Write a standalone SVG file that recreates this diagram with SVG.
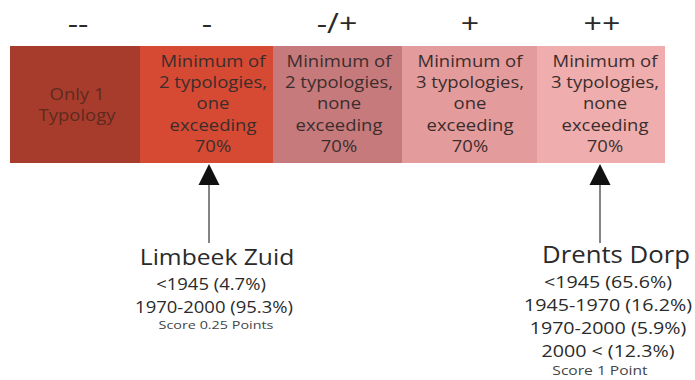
<svg xmlns="http://www.w3.org/2000/svg" width="695" height="380" viewBox="0 0 695 380">
  <style>
    text { font-family: "Open Sans", "Noto Sans", "DejaVu Sans", sans-serif; text-anchor: middle; fill: #2a2a2a; }
    .sym { font-size: 28px; font-weight: 500; }
    .cell { font-size: 16.5px; fill: #3b2d2d; font-weight: 500; }
    .cell-dark { font-size: 16.5px; fill: #5e2a1e; font-weight: 500; }
    .name { font-size: 22px; font-weight: 500; }
    .name-lg { font-size: 23px; font-weight: 500; }
    .val { font-size: 16.5px; font-weight: 500; }
    .val-lg { font-size: 16.8px; font-weight: 500; }
    .score { font-size: 11.5px; fill: #444; font-weight: 500; }
    .score-lg { font-size: 12px; fill: #444; font-weight: 500; }
    .lead { stroke: #333; stroke-width: 1.2; fill: none; }
    .tip { fill: #111; }
  </style>
  <rect width="695" height="380" fill="#ffffff"/>

  <!-- rating scale labels -->
  <g id="scale-labels">
    <g transform="translate(78 0) scale(1.15 1)"><text class="sym" x="0" y="33">--</text></g>
    <g transform="translate(207 0) scale(1.15 1)"><text class="sym" x="0" y="33">-</text></g>
    <g transform="translate(337 0) scale(1.15 1)"><text class="sym" x="0" y="33">-/+</text></g>
    <g transform="translate(470 0) scale(1.15 1)"><text class="sym" x="0" y="33">+</text></g>
    <g transform="translate(602 0) scale(1.15 1)"><text class="sym" x="0" y="33">++</text></g>
  </g>

  <!-- rating bar cells; labels are set in a slightly widened face -->
  <g id="cell-1">
    <rect x="10" y="46" width="131" height="117" fill="#a73c2c"/>
    <g transform="translate(77 0) scale(1.12 1)">
      <text class="cell-dark" x="0" y="100">Only 1</text>
      <text class="cell-dark" x="0" y="121">Typology</text>
    </g>
  </g>
  <g id="cell-2">
    <rect x="140" y="46" width="133" height="117" fill="#d64a33"/>
    <g transform="translate(213 0) scale(1.12 1)">
      <text class="cell" x="0" y="67">Minimum of</text>
      <text class="cell" x="0" y="88">2 typologies,</text>
      <text class="cell" x="0" y="109">one</text>
      <text class="cell" x="0" y="131">exceeding</text>
      <text class="cell" x="0" y="152">70%</text>
    </g>
  </g>
  <g id="cell-3">
    <rect x="273" y="46" width="130" height="117" fill="#c67a7c"/>
    <g transform="translate(339 0) scale(1.12 1)">
      <text class="cell" x="0" y="67">Minimum of</text>
      <text class="cell" x="0" y="88">2 typologies,</text>
      <text class="cell" x="0" y="109">none</text>
      <text class="cell" x="0" y="131">exceeding</text>
      <text class="cell" x="0" y="152">70%</text>
    </g>
  </g>
  <g id="cell-4">
    <rect x="402" y="46" width="135" height="117" fill="#e49b9b"/>
    <g transform="translate(470 0) scale(1.12 1)">
      <text class="cell" x="0" y="67">Minimum of</text>
      <text class="cell" x="0" y="88">3 typologies,</text>
      <text class="cell" x="0" y="109">one</text>
      <text class="cell" x="0" y="131">exceeding</text>
      <text class="cell" x="0" y="152">70%</text>
    </g>
  </g>
  <g id="cell-5">
    <rect x="537" y="46" width="128" height="117" fill="#efadad"/>
    <g transform="translate(605 0) scale(1.12 1)">
      <text class="cell" x="0" y="67">Minimum of</text>
      <text class="cell" x="0" y="88">3 typologies,</text>
      <text class="cell" x="0" y="109">none</text>
      <text class="cell" x="0" y="131">exceeding</text>
      <text class="cell" x="0" y="152">70%</text>
    </g>
  </g>

  <!-- pointers from neighbourhoods to their score -->
  <g id="connectors">
    <line class="lead" x1="209" y1="184" x2="209" y2="243"/>
    <polygon class="tip" points="209,164 198.5,185 219.5,185"/>
    <line class="lead" x1="600" y1="184" x2="600" y2="243"/>
    <polygon class="tip" points="600,164 589.5,185 610.5,185"/>
  </g>

  <g id="limbeek-zuid">
    <g transform="translate(217 0) scale(1.12 1)">
      <text class="name" x="0" y="265">Limbeek Zuid</text>
    </g>
    <g transform="translate(211 0) scale(1.12 1)">
      <text class="val" x="0" y="290">&lt;1945 (4.7%)</text>
    </g>
    <g transform="translate(214 0) scale(1.12 1)">
      <text class="val" x="0" y="313">1970-2000 (95.3%)</text>
    </g>
    <g transform="translate(216 0) scale(1.25 1)">
      <text class="score" x="0" y="329">Score 0.25 Points</text>
    </g>
  </g>

  <g id="drents-dorp">
    <g transform="translate(616 0) scale(1.12 1)">
      <text class="name-lg" x="0" y="263">Drents Dorp</text>
    </g>
    <g transform="translate(608 0) scale(1.17 1)">
      <text class="val-lg" x="0" y="288">&lt;1945 (65.6%)</text>
      <text class="val-lg" x="0" y="311">1945-1970 (16.2%)</text>
      <text class="val-lg" x="0" y="334">1970-2000 (5.9%)</text>
      <text class="val-lg" x="0" y="357">2000 &lt; (12.3%)</text>
    </g>
    <g transform="translate(600 0) scale(1.3 1)">
      <text class="score-lg" x="0" y="375">Score 1 Point</text>
    </g>
  </g>
</svg>
